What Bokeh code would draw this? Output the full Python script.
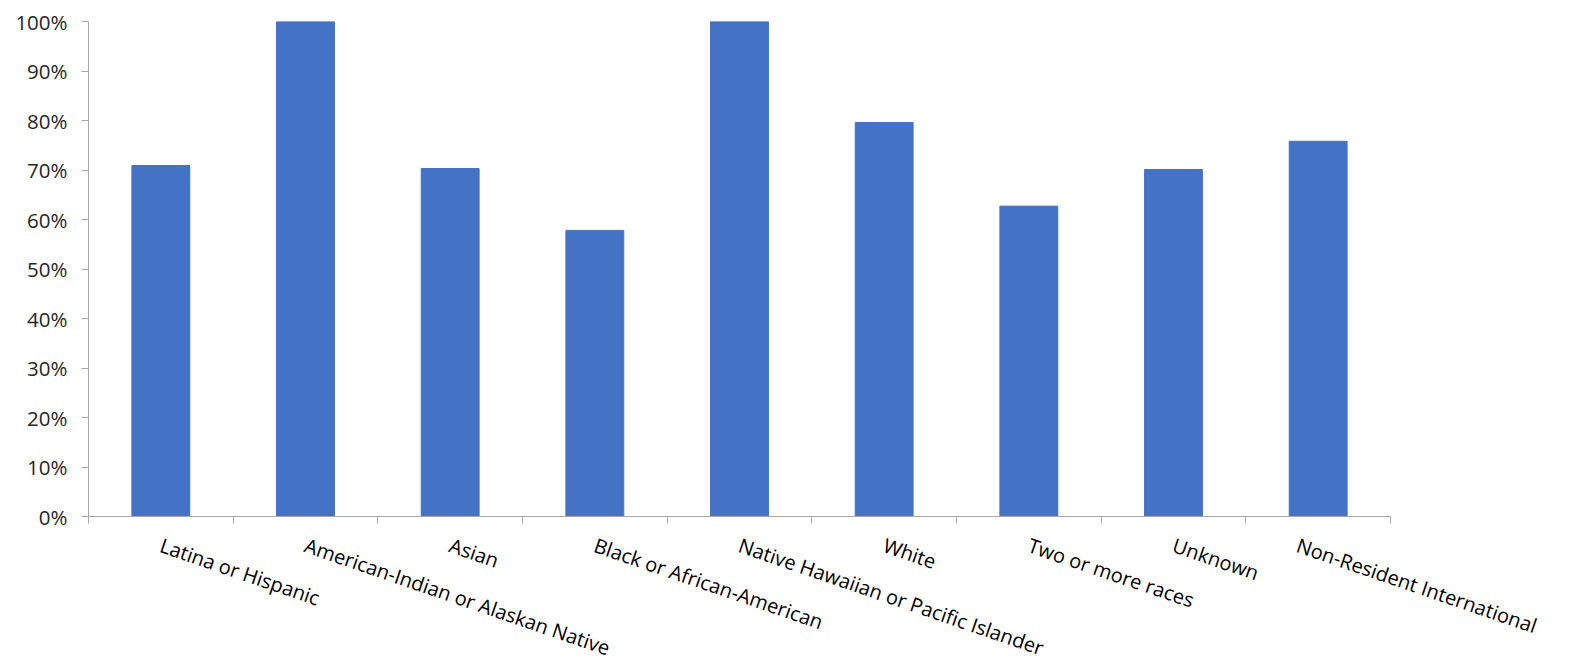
from bokeh.plotting import figure
from bokeh.models import (Range1d, LinearAxis, FixedTicker, NumeralTickFormatter,
                          ColumnDataSource)
from bokeh.embed import file_html
from bokeh.resources import INLINE

categories = ["Latina or Hispanic", "American-Indian or Alaskan Native", "Asian",
              "Black or African-American", "Native Hawaiian or Pacific Islander",
              "White", "Two or more races", "Unknown", "Non-Resident International"]
values = [0.709, 1.0, 0.703, 0.578, 1.0, 0.796, 0.627, 0.701, 0.758]
y_ticks = [i / 10 for i in range(11)]

FONT = "Open Sans"
AXIS_COLOR = "#a6a6a6"
TEXT_COLOR = "#262626"

n = len(categories)
centers = [i + 0.5 for i in range(n)]
bounds = list(range(n + 1))
src = ColumnDataSource(dict(x=centers, top=values, cat=categories))

p = figure(frame_width=1302, frame_height=495, output_backend="svg",
           toolbar_location=None,
           x_range=Range1d(0, n), y_range=Range1d(0, 1),
           x_axis_location=None, y_axis_location=None,
           min_border_left=88, min_border_right=150, min_border_top=21,
           min_border_bottom=100)
p.outline_line_color = None
p.grid.visible = False

p.vbar(x="x", top="top", width=0.4, color="#4472C4", source=src)

# y axis
yax = LinearAxis(ticker=FixedTicker(ticks=y_ticks),
                 formatter=NumeralTickFormatter(format="0%"))
yax.axis_line_color = AXIS_COLOR
yax.major_tick_line_color = AXIS_COLOR
yax.major_tick_in = 0
yax.major_tick_out = 7
yax.minor_tick_line_color = None
yax.major_label_text_font = FONT
yax.major_label_text_font_size = "20.5px"
yax.major_label_text_color = TEXT_COLOR
yax.major_label_standoff = 14
p.add_layout(yax, "left")

# x axis: labels at centers, ticks at category boundaries (minor ticks)
xax = LinearAxis(ticker=FixedTicker(ticks=centers, minor_ticks=bounds),
                 major_label_overrides={c: lab for c, lab in zip(centers, categories)})
xax.axis_line_color = AXIS_COLOR
xax.major_tick_line_color = None
xax.major_tick_in = 0
xax.major_tick_out = 0
xax.minor_tick_line_color = AXIS_COLOR
xax.minor_tick_in = 0
xax.minor_tick_out = 7
xax.major_label_orientation = -0.33
xax.major_label_text_font = FONT
xax.major_label_text_font_size = "20px"
xax.major_label_text_color = "#000000"
xax.major_label_standoff = 21
p.add_layout(xax, "below")

open("out.html", "w").write(file_html(p, INLINE))
